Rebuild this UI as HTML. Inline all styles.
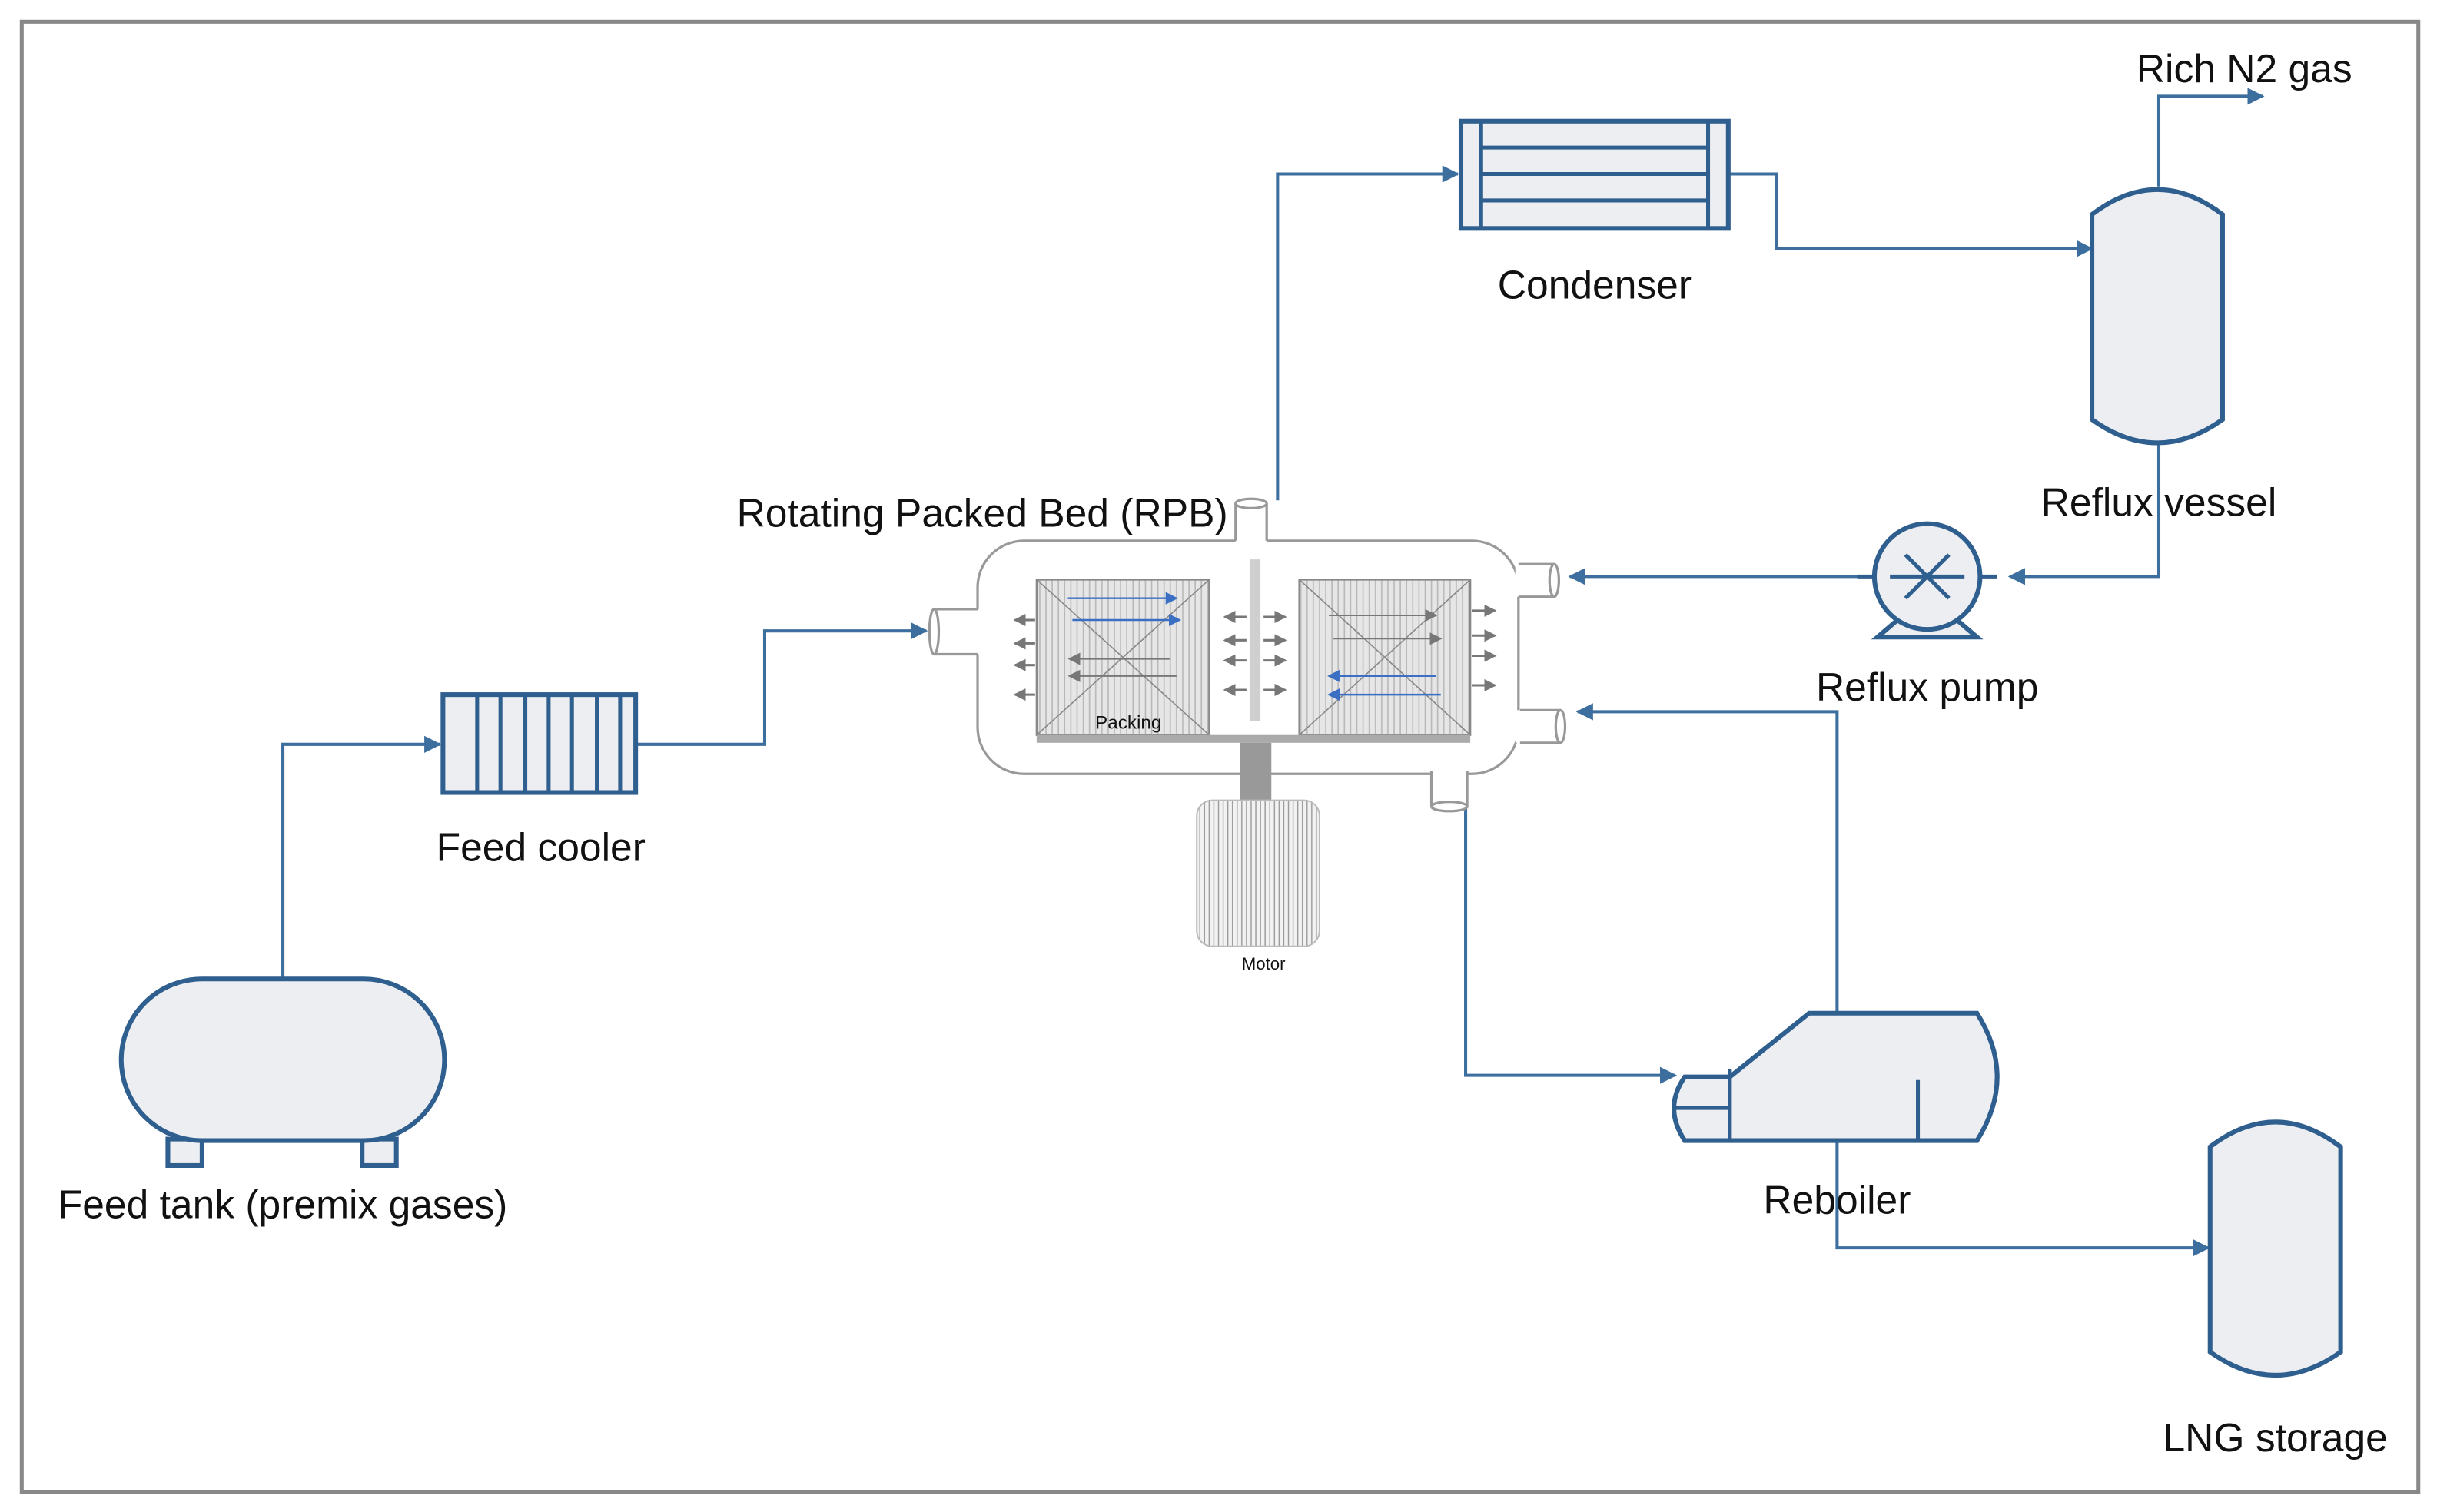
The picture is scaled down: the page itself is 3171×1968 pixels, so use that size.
<!DOCTYPE html>
<html><head><meta charset="utf-8"><style>html,body{margin:0;padding:0;background:#fff}svg{display:block}text{font-family:"Liberation Sans",sans-serif;fill:#111}</style></head>
<body>
<svg width="3171" height="1968" viewBox="0 0 1568 973" preserveAspectRatio="none" xmlns="http://www.w3.org/2000/svg">
<defs>
<marker id="a" markerWidth="11" markerHeight="11" refX="10" refY="5.5" orient="auto" markerUnits="userSpaceOnUse"><path d="M0,0 L11,5.5 L0,11 z" fill="#3c6e9e"/></marker>
<marker id="g" markerWidth="8" markerHeight="8" refX="7" refY="4" orient="auto" markerUnits="userSpaceOnUse"><path d="M0,0 L8,4 L0,8 z" fill="#777"/></marker>
<marker id="b" markerWidth="8" markerHeight="8" refX="7" refY="4" orient="auto" markerUnits="userSpaceOnUse"><path d="M0,0 L8,4 L0,8 z" fill="#3a6fc4"/></marker>
<pattern id="hat" width="4" height="8" patternUnits="userSpaceOnUse"><rect width="4" height="8" fill="#e6e6e6"/><line x1="1" y1="0" x2="1" y2="8" stroke="#b8b8b8" stroke-width="0.8"/></pattern>
<pattern id="mot" width="3" height="8" patternUnits="userSpaceOnUse"><rect width="3" height="8" fill="#f2f2f2"/><line x1="1" y1="0" x2="1" y2="8" stroke="#999" stroke-width="0.7"/></pattern>
</defs>
<rect x="14" y="14" width="1542" height="946" fill="#fff" stroke="#888" stroke-width="2.5"/>

<g fill="none" stroke="#3c6e9e" stroke-width="2">
<polyline points="182,630 182,479 283,479" marker-end="url(#a)"/>
<polyline points="409,479 492,479 492,406 596,406" marker-end="url(#a)"/>
<polyline points="822,322 822,112 938,112" marker-end="url(#a)"/>
<polyline points="1112,112 1143,112 1143,160 1346,160" marker-end="url(#a)"/>
<polyline points="1389,120 1389,62 1456,62" marker-end="url(#a)"/>
<polyline points="1389,285 1389,371 1293,371" marker-end="url(#a)"/>
<polyline points="1205,371 1010,371" marker-end="url(#a)"/>
<polyline points="1182,652 1182,458 1015,458" marker-end="url(#a)"/>
<polyline points="943,520 943,692 1078,692" marker-end="url(#a)"/>
<polyline points="1182,734 1182,803 1421,803" marker-end="url(#a)"/>
</g>

<g fill="#eceef2" stroke="#2f5f8f" stroke-width="3">
<rect x="108" y="733" width="22" height="17"/>
<rect x="233" y="733" width="22" height="17"/>
<rect x="78" y="630" width="208" height="104" rx="52"/>
<rect x="285" y="447" width="124" height="63"/>
<rect x="940" y="78" width="172" height="69"/>
<path d="M1346,138 Q1388,106 1430,138 L1430,270 Q1388,300 1346,270 Z"/>
<path d="M1422,738 Q1464,706 1506,738 L1506,870 Q1464,900 1422,870 Z"/>
<path d="M1113,693 L1164,652 L1272,652 Q1298,693 1272,734 L1084,734 Q1070,713 1084,693 Z"/>
<path d="M1208,410 L1222,398 L1258,398 L1272,410 Z"/>
<circle cx="1240" cy="371" r="34"/>
</g>
<g stroke="#2f5f8f" stroke-width="2.5" fill="none">
<line x1="307" y1="447" x2="307" y2="510"/><line x1="322" y1="447" x2="322" y2="510"/><line x1="338" y1="447" x2="338" y2="510"/><line x1="353" y1="447" x2="353" y2="510"/><line x1="368" y1="447" x2="368" y2="510"/><line x1="384" y1="447" x2="384" y2="510"/><line x1="399" y1="447" x2="399" y2="510"/>
<line x1="953" y1="78" x2="953" y2="147"/><line x1="1099" y1="78" x2="1099" y2="147"/>
<line x1="953" y1="95" x2="1099" y2="95"/><line x1="953" y1="112" x2="1099" y2="112"/><line x1="953" y1="129" x2="1099" y2="129"/>
<line x1="1113" y1="688" x2="1113" y2="734"/><line x1="1078" y1="713" x2="1113" y2="713"/>
<line x1="1234" y1="695" x2="1234" y2="734"/>
<line x1="1216" y1="371" x2="1264" y2="371"/><line x1="1226" y1="357" x2="1254" y2="385"/><line x1="1226" y1="385" x2="1254" y2="357"/>
<line x1="1195" y1="371" x2="1206" y2="371"/><line x1="1274" y1="371" x2="1285" y2="371"/>
</g>

<g fill="#fff" stroke="#999" stroke-width="1.6">
<rect x="629" y="348" width="348" height="150" rx="30"/>
<rect x="795" y="324" width="20" height="26" stroke="none"/>
<path d="M795,348 L795,324 M815,324 L815,348"/>
<ellipse cx="805" cy="324" rx="10" ry="3"/>
<rect x="601" y="392" width="30" height="29" stroke="none"/>
<path d="M601,392 L629,392 M601,421 L629,421"/>
<ellipse cx="601" cy="406.5" rx="3" ry="14.5"/>
<rect x="975" y="363" width="27" height="21" stroke="none"/>
<path d="M977,363 L1000,363 M977,384 L1000,384"/>
<ellipse cx="1000" cy="373.5" rx="3" ry="10.5"/>
<rect x="975" y="457" width="31" height="21" stroke="none"/>
<path d="M978,457 L1004,457 M978,478 L1004,478"/>
<ellipse cx="1004" cy="467.5" rx="3" ry="10.5"/>
<rect x="921" y="494" width="23" height="25" stroke="none"/>
<path d="M921,496 L921,519 M944,496 L944,519"/>
<ellipse cx="932.5" cy="519" rx="11.5" ry="3"/>
</g>
<rect x="667" y="373" width="111" height="100" fill="url(#hat)" stroke="#888" stroke-width="1.2"/>
<rect x="836" y="373" width="110" height="100" fill="url(#hat)" stroke="#888" stroke-width="1.2"/>
<g stroke="#888" stroke-width="0.8"><line x1="667" y1="373" x2="778" y2="473"/><line x1="778" y1="373" x2="667" y2="473"/><line x1="836" y1="373" x2="946" y2="473"/><line x1="946" y1="373" x2="836" y2="473"/></g>
<rect x="667" y="473" width="279" height="5" fill="#aaa"/>
<rect x="804" y="360" width="7" height="104" fill="#cfcfcf"/>
<rect x="798" y="478" width="20" height="38" fill="#999"/>
<rect x="770" y="515" width="79" height="94" rx="10" fill="url(#mot)" stroke="#bbb" stroke-width="1"/>
<g stroke="#777" stroke-width="1.5" fill="none">
<line x1="666" y1="399" x2="653" y2="399" marker-end="url(#g)"/><line x1="666" y1="414" x2="653" y2="414" marker-end="url(#g)"/><line x1="666" y1="428" x2="653" y2="428" marker-end="url(#g)"/><line x1="666" y1="447" x2="653" y2="447" marker-end="url(#g)"/>
<line x1="947" y1="393" x2="962" y2="393" marker-end="url(#g)"/><line x1="947" y1="409" x2="962" y2="409" marker-end="url(#g)"/><line x1="947" y1="422" x2="962" y2="422" marker-end="url(#g)"/><line x1="947" y1="441" x2="962" y2="441" marker-end="url(#g)"/>
<line x1="802" y1="397" x2="788" y2="397" marker-end="url(#g)"/><line x1="813" y1="397" x2="827" y2="397" marker-end="url(#g)"/>
<line x1="802" y1="412" x2="788" y2="412" marker-end="url(#g)"/><line x1="813" y1="412" x2="827" y2="412" marker-end="url(#g)"/>
<line x1="802" y1="425" x2="788" y2="425" marker-end="url(#g)"/><line x1="813" y1="425" x2="827" y2="425" marker-end="url(#g)"/>
<line x1="802" y1="444" x2="788" y2="444" marker-end="url(#g)"/><line x1="813" y1="444" x2="827" y2="444" marker-end="url(#g)"/>
<line x1="753" y1="424" x2="688" y2="424" marker-end="url(#g)" stroke-width="1"/><line x1="757" y1="435" x2="688" y2="435" marker-end="url(#g)" stroke-width="1"/>
<line x1="855" y1="396" x2="924" y2="396" marker-end="url(#g)" stroke-width="1"/><line x1="858" y1="411" x2="927" y2="411" marker-end="url(#g)" stroke-width="1"/>
</g>
<g stroke="#3a6fc4" stroke-width="1.2" fill="none">
<line x1="687" y1="385" x2="757" y2="385" marker-end="url(#b)"/><line x1="690" y1="399" x2="759" y2="399" marker-end="url(#b)"/>
<line x1="924" y1="435" x2="855" y2="435" marker-end="url(#b)"/><line x1="927" y1="447" x2="855" y2="447" marker-end="url(#b)"/>
</g>
<text x="726" y="469" font-size="12" text-anchor="middle">Packing</text>
<text x="813" y="624" font-size="11" text-anchor="middle">Motor</text>

<g font-size="25.5">
<text x="474" y="339">Rotating Packed Bed (RPB)</text>
<text x="182" y="784" text-anchor="middle">Feed tank (premix gases)</text>
<text x="348" y="554" text-anchor="middle">Feed cooler</text>
<text x="1026" y="192" text-anchor="middle">Condenser</text>
<text x="1389" y="332" text-anchor="middle">Reflux vessel</text>
<text x="1444" y="53" text-anchor="middle">Rich N2 gas</text>
<text x="1240" y="451" text-anchor="middle">Reflux pump</text>
<text x="1182" y="781" text-anchor="middle">Reboiler</text>
<text x="1464" y="934" text-anchor="middle">LNG storage</text>
</g>
</svg>
</body></html>
